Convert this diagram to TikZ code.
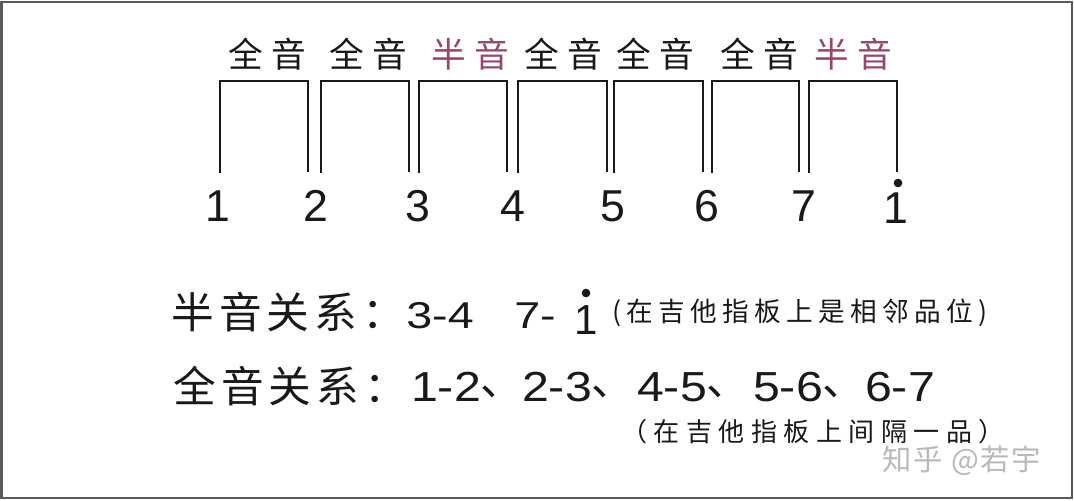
\documentclass[tikz,border=0pt]{standalone}
\usepackage{fontspec}
\newfontfamily\cjktop[LetterSpace=25]{Noto Sans CJK SC}
\newfontfamily\cjkmid[LetterSpace=12]{Noto Sans CJK SC}
\newfontfamily\cjknoteA[LetterSpace=20]{Noto Sans CJK SC}
\newfontfamily\cjknoteB[LetterSpace=25]{Noto Sans CJK SC}
\newfontfamily\cjkwm[LetterSpace=6]{Noto Sans CJK SC}
\newfontfamily\cjk{Noto Sans CJK SC}
\newfontfamily\arialf{Liberation Sans}
\definecolor{halfcol}{RGB}{150,70,110}
\definecolor{ink}{RGB}{25,25,25}
\definecolor{framecol}{RGB}{90,90,90}
\definecolor{wmcol}{RGB}{185,185,185}
\begin{document}
\begin{tikzpicture}[x=0.75pt,y=-0.75pt,
  frame/.style={draw=framecol, line width=1.5pt},
  bracket/.style={draw=ink, line width=1.5pt, line join=miter},
  toplab/.style={inner sep=0, text=ink, font=\cjktop\fontsize{26}{30}\selectfont},
  halflab/.style={toplab, text=halfcol},
  topnum/.style={inner sep=0, text=ink, font=\arialf\fontsize{33.5}{40}\selectfont},
  dotst/.style={circle, fill=ink, inner sep=0, minimum size=6.5pt},
  relcjk/.style={inner sep=0, text=ink, font=\cjkmid\fontsize{32}{36}\selectfont},
  numA/.style={inner sep=0, text=ink, font=\arialf\fontsize{28}{32}\selectfont},
  numB/.style={inner sep=0, text=ink, font=\arialf\fontsize{31.5}{36}\selectfont},
  noteA/.style={inner sep=0, text=ink, font=\cjknoteA\fontsize{20}{24}\selectfont},
  noteB/.style={inner sep=0, text=ink, font=\cjknoteB\fontsize{19.5}{24}\selectfont},
  wm/.style={inner sep=0, text=wmcol, font=\cjkwm\fontsize{22}{26}\selectfont}
]
\useasboundingbox (0,0) rectangle (1074,500);
\fill[white] (0,0) rectangle (1074,500);
\draw[frame] (1.5,1.5) rectangle (1072,498);

% brackets
\foreach \l/\r in {220/307.7, 320.7/409, 419/507, 518/606.7, 614/702.7, 711.7/799, 808.7/897.3}
  \draw[bracket] (\l,173) -- (\l,81) -- (\r,81) -- (\r,172);

% interval labels
\node[toplab]  (t1) at (267,54) {全音};
\node[toplab]  (t2) at (368,54) {全音};
\node[halflab] (t3) at (470,54) {半音};
\node[toplab]  (t4) at (563,54) {全音};
\node[toplab]  (t5) at (655,54) {全音};
\node[toplab]  (t6) at (759,54) {全音};
\node[halflab] (t7) at (853,54) {半音};

% scale degrees
\node[topnum] (n1) at (218,206) {1};
\node[topnum] (n2) at (316,206) {2};
\node[topnum] (n3) at (418,206) {3};
\node[topnum] (n4) at (513,206) {4};
\node[topnum] (n5) at (613,206) {5};
\node[topnum] (n6) at (707,206) {6};
\node[topnum] (n7) at (804,206) {7};
\node[topnum] (n8) at (896,208) {1};
\node[dotst]  (d8) at (898,183) {};

% half-step relation
\node[relcjk, anchor=west] (r1) at (171,312) {半音关系：};
\node[numA] (r1a) at (440,315.5) {\scalebox{1.25}[1]{3-4}};
\node[numA] (r1b) at (535,315.5) {\scalebox{1.25}[1]{7-}};
\node[numB] (r1c) at (586,320) {1};
\node[dotst] (r1d) at (586,293) {};
\node[noteA] (r1n) at (800,313) {(在吉他指板上是相邻品位)};

% whole-step relation
\node[relcjk, anchor=west] (r2) at (173,386) {全音关系：};
\node[numB] (r2a) at (446,387) {\scalebox{1.15}[1]{1-2}};
\node[relcjk] (c1) at (502,392) {、};
\node[numB] (r2b) at (557,387) {\scalebox{1.15}[1]{2-3}};
\node[relcjk] (c2) at (613,392) {、};
\node[numB] (r2c) at (672,387) {\scalebox{1.15}[1]{4-5}};
\node[relcjk] (c3) at (728,392) {、};
\node[numB] (r2d) at (788,387) {\scalebox{1.15}[1]{5-6}};
\node[relcjk] (c4) at (844,392) {、};
\node[numB] (r2e) at (900,387) {\scalebox{1.15}[1]{6-7}};
\node[noteB] (r2n) at (813,432) {（在吉他指板上间隔一品）};

% watermark
\node[wm] (w) at (962,461) {知乎 @若宇};
\end{tikzpicture}
\end{document}
